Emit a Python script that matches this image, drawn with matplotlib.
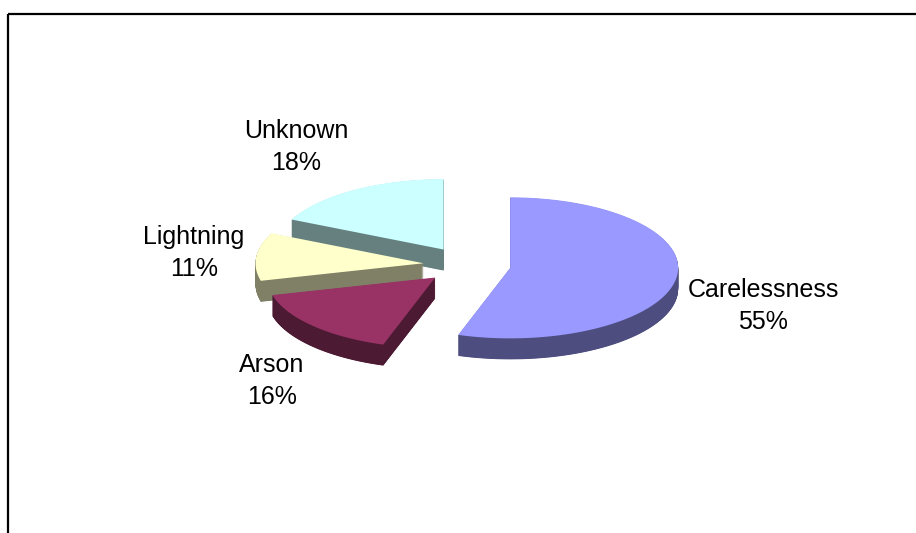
import numpy as np
import matplotlib.pyplot as plt
from matplotlib.patches import Polygon

# causes of fires, share in percent (clockwise from 12 o'clock)
causes = ['Carelessness', 'Arson', 'Lightning', 'Unknown']
shares = [55, 16, 11, 18]
top_colors = ['#9999ff', '#993366', '#ffffcc', '#ccffff']
side_colors = ['#4d4d80', '#4d1a33', '#808066', '#668080']

# layout of the fake 3d pie, in pixels
cx, cy = 467, 265
rx, ry = 168, 70.5
depth = 21
explode = 0.26
label_xy = [(763, 306), (272, 381), (194, 253), (296, 147)]

plt.rcParams['font.family'] = ['Liberation Sans', 'DejaVu Sans']

fig = plt.figure(figsize=(9.16, 5.33), dpi=100)
ax = fig.add_axes([0, 0, 1, 1])
ax.set_xlim(0, 916)
ax.set_ylim(533, 0)
ax.axis('off')

total = float(sum(shares))
start = 90.0
for i, share in enumerate(shares):
    a0 = np.radians(start)
    a1 = np.radians(start - 360.0 * share / total)
    start = start - 360.0 * share / total
    mid = (a0 + a1) / 2
    px = cx + explode * rx * np.cos(mid)
    py = cy - explode * ry * np.sin(mid)
    t = np.linspace(a0, a1, 120)
    xs = np.concatenate([[px], px + rx * np.cos(t)])
    ys = np.concatenate([[py], py - ry * np.sin(t)])
    z = py  # slices further back get drawn first
    # side walls: the slice shape stacked downward
    for k in np.linspace(depth, 0.5, 60):
        ax.add_patch(Polygon(np.column_stack([xs, ys + k]), closed=True,
                             facecolor=side_colors[i], edgecolor='none', zorder=z))
    ax.add_patch(Polygon(np.column_stack([xs, ys]), closed=True,
                         facecolor=top_colors[i], edgecolor='none', zorder=z + 0.5))
    ax.text(label_xy[i][0], label_xy[i][1], '%s\n%d%%' % (causes[i], share),
            ha='center', va='center', fontsize=18, linespacing=1.4, zorder=1000)

# chart area border (runs off the right and bottom)
ax.plot([7.5, 920], [13.5, 13.5], color='black', lw=1.6, solid_capstyle='butt', zorder=1001)
ax.plot([7.5, 7.5], [13.5, 540], color='black', lw=1.6, solid_capstyle='butt', zorder=1001)

fig.savefig('out.png', dpi=100)
